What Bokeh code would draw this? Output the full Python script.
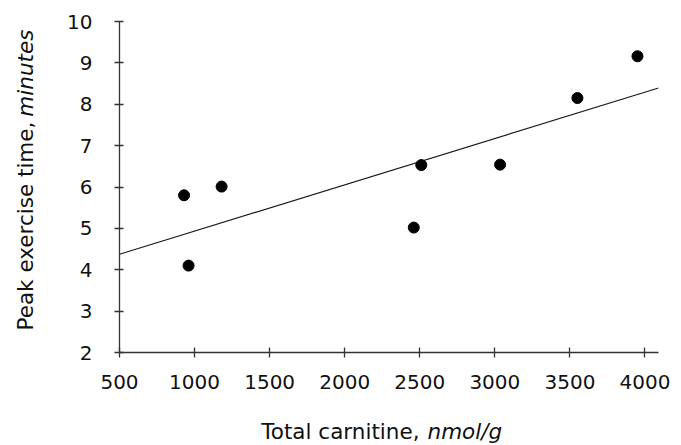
import numpy as np
from bokeh.plotting import figure
from bokeh.models import Range1d, FixedTicker
from bokeh.layouts import column, row
from bokeh.core.properties import value
from bokeh.embed import file_html
from bokeh.resources import INLINE

# Data
carnitine = [930, 960, 1180, 2460, 2510, 3035, 3550, 3950]   # nmol/g
exercise = [5.80, 4.10, 6.01, 5.02, 6.53, 6.54, 8.15, 9.16]  # minutes
x_ticks = [500, 1000, 1500, 2000, 2500, 3000, 3500, 4000]
y_ticks = [2, 3, 4, 5, 6, 7, 8, 9, 10]

x_title_plain, x_title_italic = "Total carnitine,", "nmol/g"
y_title_plain, y_title_italic = "Peak exercise time,", "minutes"

FONT = "DejaVu Sans"
TITLE_SIZE = "21.5px"
INK = "#111111"

W, H = 681, 445
YT_W = 40          # strip holding the y-axis title
MAIN_H = 400       # main plot height (above the x-title strip)

# ---- main plot ----
p = figure(width=W - YT_W, height=MAIN_H, output_backend="svg", toolbar_location=None,
           x_range=Range1d(500, 4090), y_range=Range1d(2, 10),
           min_border_left=119 - YT_W, min_border_right=23,
           min_border_top=21, min_border_bottom=MAIN_H - 352)
p.outline_line_color = None
p.xgrid.visible = False
p.ygrid.visible = False

# regression line fitted to the data
slope, intercept = np.polyfit(carnitine, exercise, 1)
lx = [p.x_range.start, p.x_range.end]
ly = [intercept + slope * v for v in lx]
p.line(lx, ly, line_color="#1a1a1a", line_width=1.2)

p.scatter(carnitine, exercise, size=11, fill_color="black", line_color="black")

for ax in (p.xaxis[0], p.yaxis[0]):
    ax.axis_line_color = "#333333"
    ax.axis_line_width = 1.3
    ax.major_tick_line_color = "#333333"
    ax.major_tick_line_width = 1.3
    ax.minor_tick_line_color = None
    ax.major_label_text_font = FONT
    ax.major_label_text_font_size = "20px"
    ax.major_label_text_color = INK

p.xaxis.ticker = FixedTicker(ticks=x_ticks)
p.yaxis.ticker = FixedTicker(ticks=y_ticks)
p.xaxis.major_tick_in = 5
p.xaxis.major_tick_out = 5
p.yaxis.major_tick_in = 4
p.yaxis.major_tick_out = 5
p.xaxis.major_label_standoff = 17
p.yaxis.major_label_standoff = 22


def strip(w, h):
    f = figure(width=w, height=h, output_backend="svg", toolbar_location=None,
               x_range=Range1d(0, w), y_range=Range1d(0, h),
               x_axis_location=None, y_axis_location=None,
               min_border=0, min_border_left=0, min_border_right=0,
               min_border_top=0, min_border_bottom=0)
    f.outline_line_color = None
    f.xgrid.visible = False
    f.ygrid.visible = False
    return f


# ---- y-axis title strip (text rotated 90 degrees) ----
yt = strip(YT_W, MAIN_H)
yt.text(x=[25], y=[MAIN_H - 121], text=[y_title_plain], angle=np.pi / 2,
        text_align="right", text_baseline="alphabetic",
        text_font=value(FONT), text_font_size=value(TITLE_SIZE), text_color=INK)
yt.text(x=[25], y=[MAIN_H - 115], text=[y_title_italic], angle=np.pi / 2,
        text_align="left", text_baseline="alphabetic", text_font_style="italic",
        text_font=value(FONT), text_font_size=value(TITLE_SIZE), text_color=INK)

# ---- x-axis title strip ----
XT_H = H - MAIN_H
xt = strip(W, XT_H)
xt.text(x=[419], y=[XT_H - 31], text=[x_title_plain],
        text_align="right", text_baseline="alphabetic",
        text_font=value(FONT), text_font_size=value(TITLE_SIZE), text_color=INK)
xt.text(x=[427], y=[XT_H - 31], text=[x_title_italic],
        text_align="left", text_baseline="alphabetic", text_font_style="italic",
        text_font=value(FONT), text_font_size=value(TITLE_SIZE), text_color=INK)

layout = column(row(yt, p), xt)
open("out.html", "w").write(file_html(layout, INLINE))
